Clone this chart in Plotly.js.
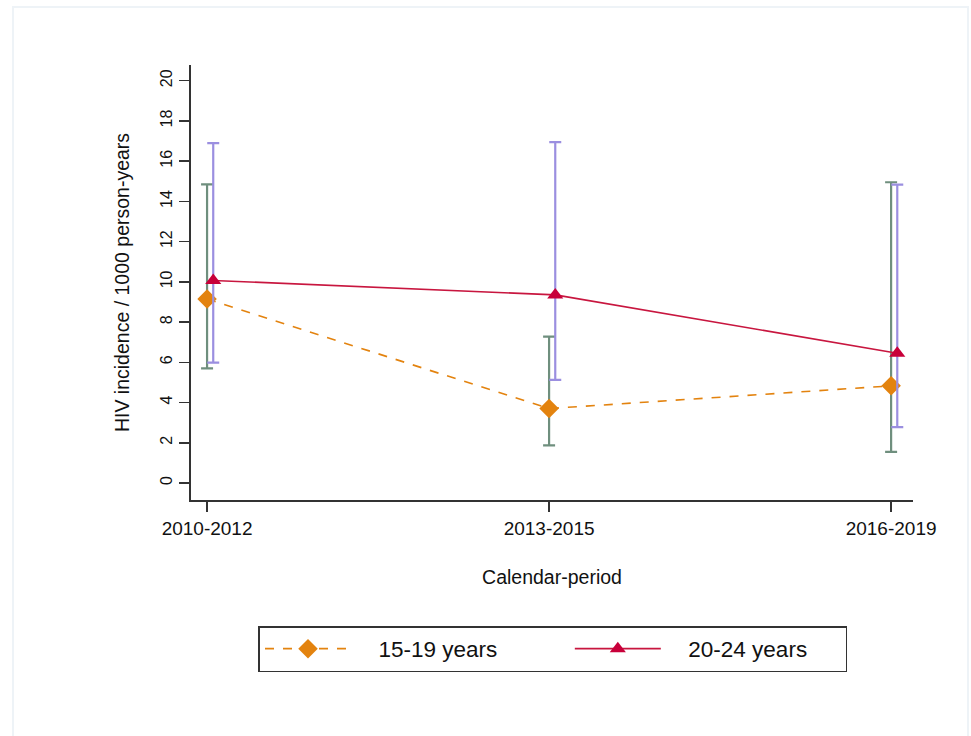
<!DOCTYPE html>
<html>
<head>
<meta charset="utf-8">
<script src="https://cdn.plot.ly/plotly-3.0.1.min.js"></script>
<style>
  html, body { margin: 0; padding: 0; background: #ffffff; }
  #frame { position: absolute; left: 12px; top: 6px; width: 957px; height: 740px;
           border: 2px solid #eef3f7; box-sizing: border-box; pointer-events: none; z-index: 5; }
  #chart { position: absolute; left: 0; top: 0; width: 971px; height: 736px; }
</style>
</head>
<body>
<div id="chart"></div>
<div id="frame"></div>
<script>
// ---- data ----
const periods = ["2010-2012", "2013-2015", "2016-2019"];

const inc1519 = [9.15, 3.7, 4.83];
const lo1519  = [5.7, 1.87, 1.55];
const hi1519  = [14.85, 7.28, 14.95];

const inc2024 = [10.07, 9.35, 6.45];
const lo2024  = [5.98, 5.13, 2.78];
const hi2024  = [16.9, 16.95, 14.83];

const seriesNames = ["15-19 years", "20-24 years"];
const yTicks = [0, 2, 4, 6, 8, 10, 12, 14, 16, 18, 20];

// ---- build traces ----
const idx = periods.map((p, i) => i);
const shift = 0.018; // small horizontal dodge for the second group
const em = "\u2003", en = "\u2002"; // spacing used in legend labels

const t1 = {
  x: idx, y: inc1519, name: em + seriesNames[0] + em + em + em, type: "scatter", mode: "lines+markers",
  line: { color: "#e3830f", width: 1.6, dash: "dash" },
  marker: { symbol: "diamond", size: 15, color: "#e3830f" },
  error_y: { type: "data", symmetric: false,
             array: hi1519.map((h, i) => h - inc1519[i]),
             arrayminus: inc1519.map((v, i) => v - lo1519[i]),
             color: "#6f8f7e", thickness: 2.2, width: 6 }
};
const t2 = {
  x: idx.map(i => i + shift), y: inc2024, name: em + seriesNames[1] + em + en, type: "scatter", mode: "lines+markers",
  line: { color: "#c8163f", width: 1.6 },
  marker: { symbol: "triangle-up", size: 14, color: "#c8003a" },
  error_y: { type: "data", symmetric: false,
             array: hi2024.map((h, i) => h - inc2024[i]),
             arrayminus: inc2024.map((v, i) => v - lo2024[i]),
             color: "#9b8fe0", thickness: 2.2, width: 6 }
};

const font = "Liberation Sans, Arial, sans-serif";

const layout = {
  width: 971, height: 736,
  paper_bgcolor: "#ffffff", plot_bgcolor: "#ffffff",
  margin: { l: 191, r: 58, t: 65, b: 236 },
  font: { family: font, color: "#111111" },
  showlegend: true,
  xaxis: {
    range: [-0.047, 2.064],
    tickvals: idx, ticktext: periods,
    showline: true, linecolor: "#333333", linewidth: 2.2,
    ticks: "outside", ticklen: 10, tickwidth: 1.5, tickcolor: "#333333",
    showgrid: false, zeroline: false,
    tickfont: { size: 19, family: font, color: "#111111" },
    title: { text: "Calendar-period", font: { size: 19.5, family: font, color: "#111111" }, standoff: 32 }
  },
  yaxis: {
    range: [-0.845, 20.78],
    tickvals: yTicks,
    showline: true, linecolor: "#333333", linewidth: 2.2,
    ticks: "outside", ticklen: 10, tickwidth: 1.5, tickcolor: "#333333",
    showgrid: false, zeroline: false, tickangle: -90,
    tickfont: { size: 16, family: font, color: "#111111" },
    title: { text: "HIV incidence / 1000 person-years", font: { size: 19.5, family: font, color: "#111111" }, standoff: 24 }
  },
  legend: {
    orientation: "h", xref: "container", yref: "container",
    x: 0.5695, xanchor: "center", y: 1 - 626 / 736, yanchor: "top",
    bordercolor: "#333333", borderwidth: 1.5, bgcolor: "#ffffff",
    font: { size: 22.5, family: font, color: "#111111" },
    itemwidth: 86,
    traceorder: "normal"
  }
};

Plotly.newPlot("chart", [t1, t2], layout, { displayModeBar: false, staticPlot: true });
</script>
</body>
</html>
